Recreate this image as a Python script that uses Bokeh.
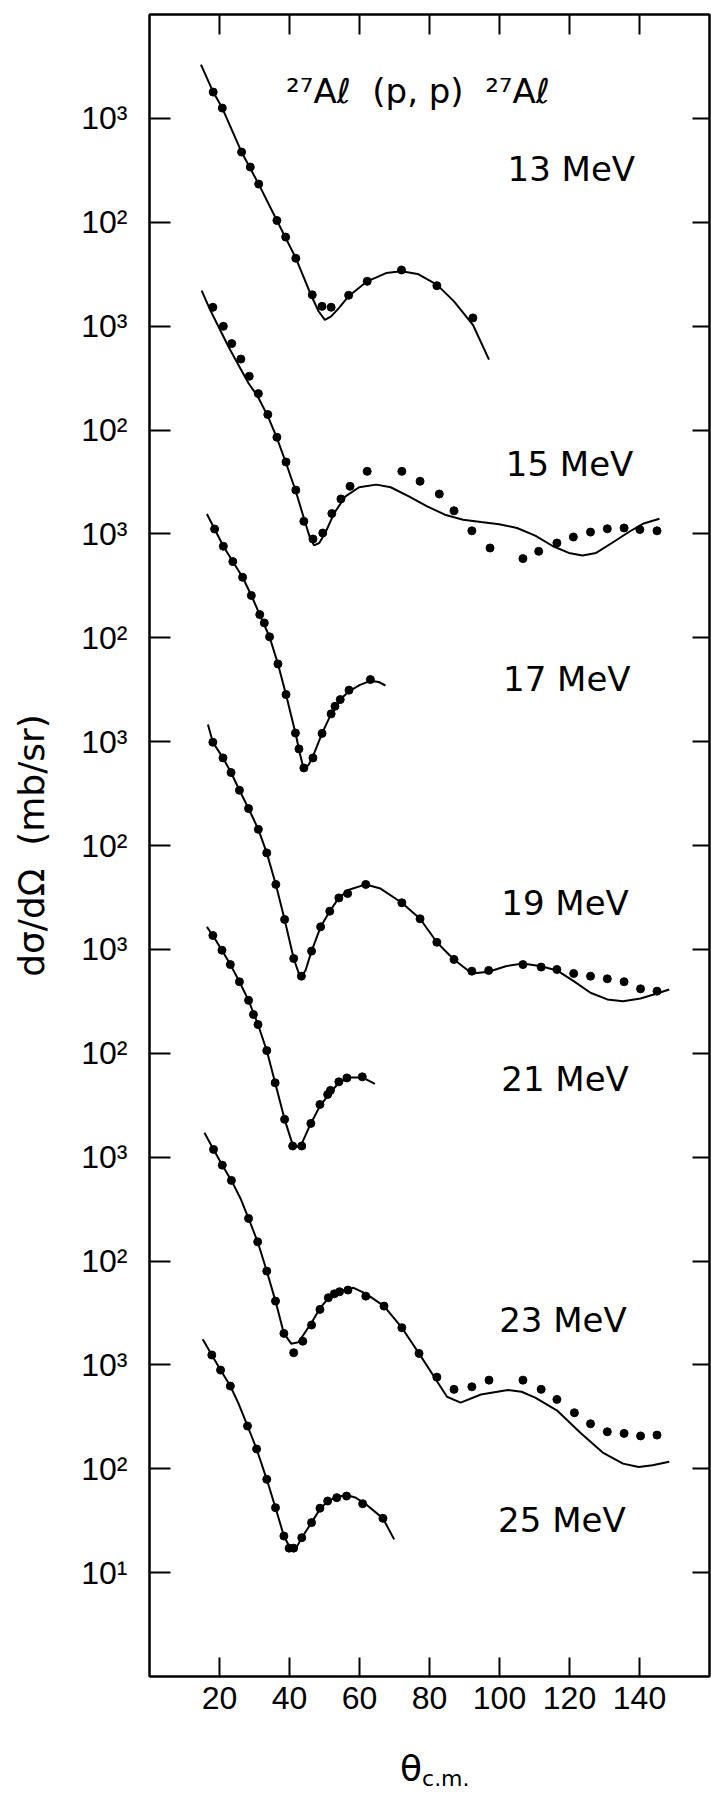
from bokeh.plotting import figure
from bokeh.layouts import column
from bokeh.models import FixedTicker, LinearAxis, LogAxis, Label, Div
from bokeh.embed import file_html
from bokeh.resources import INLINE

FONT = "DejaVu Sans"
TICK_FONT = "Liberation Sans"

# ---------------- data (theta in degrees c.m., dsigma/dOmega in mb/sr) ----------------
energy_labels = ["13 MeV", "15 MeV", "17 MeV", "19 MeV", "21 MeV", "23 MeV", "25 MeV"]
decade_shift = [0, 2, 4, 6, 8, 10, 12]   # each curve displaced downward by 10^-shift

th13_exp = [18.2, 20.8, 26.3, 28.8, 31.2, 36.4, 38.9, 41.8, 46.5, 49.3, 51.9, 56.9, 62.2, 72.0, 82.1, 92.4]
cs13_exp = [1790, 1256, 474, 340, 233, 104, 72, 45, 20, 15.5, 15.2, 19.8, 27, 34.7, 24.5, 12]
th13_fit = [14.7, 18.2, 20.8, 26.3, 31.2, 36.4, 41.8, 46.1, 48.3, 50.1, 51.9, 54.1, 56.9, 62.2, 67.6,
            72.0, 76.6, 82.1, 87.0, 92.4, 97.0]
cs13_fit = [3290, 1790, 1256, 474, 233, 104, 45.2, 20.1, 13.9, 11.5, 12.4, 14.9, 19.4, 27.0, 32.4,
            33.7, 31.8, 25.1, 17.3, 10.3, 4.76]

th15_exp = [18.1, 21.1, 23.5, 26.1, 28.5, 31.1, 33.8, 36.4, 39.0, 41.8, 44.1, 46.7, 49.5, 52.1, 54.7,
            57.3, 62.2, 72.1, 77.3, 82.8, 87.0, 92.1, 97.3, 106.7, 111.2, 116.4, 121.1, 126.0, 130.8,
            135.6, 140.1, 145.0]
cs15_exp = [1517, 995, 679, 482, 329, 224, 141, 85.1, 49.2, 26.4, 13.2, 8.93, 10.2, 15.7, 21.7,
            28.7, 40.0, 40.0, 32.1, 24.2, 16.7, 10.7, 7.31, 5.78, 6.79, 8.17, 9.33, 10.4, 11.2,
            11.4, 11.0, 10.7]
th15_fit = [14.9, 17.3, 19.9, 22.5, 25.1, 28.3, 30.9, 33.8, 36.4, 39.0, 41.8, 44.1, 45.7, 47.0, 48.5,
            50.2, 52.8, 56.0, 59.9, 64.8, 68.9, 74.1, 79.2, 84.4, 89.6, 94.7, 99.9, 105.0, 110.2,
            115.3, 119.8, 123.7, 127.6, 132.1, 137.3, 141.2, 145.7]
cs15_fit = [2198, 1442, 959, 640, 442, 282, 211, 136, 83.8, 48.1, 25.7, 14.2, 9.49, 7.76, 8.17,
            10.2, 15.9, 23.0, 28.1, 29.8, 28.1, 23.0, 18.5, 15.3, 13.7, 13.0, 12.4, 11.4, 9.62,
            7.60, 6.56, 6.18, 6.56, 8.17, 10.6, 12.6, 14.0]

th17_exp = [18.6, 21.1, 23.8, 26.6, 29.1, 31.5, 32.8, 34.3, 36.7, 39.0, 41.7, 42.7, 44.1, 46.7, 49.3,
            51.9, 53.0, 54.5, 57.0, 63.1]
cs17_exp = [1114, 760, 541, 382, 255, 167, 139, 102, 56.0, 28.4, 12.1, 8.51, 5.58, 6.97, 12.0,
            18.5, 21.9, 25.4, 31.3, 39.6]
th17_fit = [16.4, 18.6, 21.1, 23.8, 26.6, 29.1, 31.5, 34.3, 36.7, 39.0, 41.7, 43.0, 44.1, 45.5, 46.7,
            49.3, 51.9, 54.5, 57.0, 60.0, 63.1, 65.5, 67.4]
cs17_fit = [1556, 1114, 760, 541, 382, 255, 167, 102, 56.0, 28.4, 12.1, 7.6, 5.37, 6.0, 7.2,
            12.0, 18.5, 25.4, 30.5, 35.0, 38.5, 37.5, 34.7]

th19_exp = [18.1, 21.0, 23.3, 25.7, 28.3, 31.1, 33.5, 36.1, 38.6, 41.2, 43.4, 46.3, 48.9, 51.5, 54.1,
            56.6, 61.8, 72.1, 77.3, 82.1, 87.0, 92.1, 96.9, 106.7, 111.9, 116.4, 121.2, 126.0, 130.8,
            135.6, 140.3, 145.0]
cs19_exp = [986, 697, 504, 340, 227, 143, 84.9, 42.2, 19.4, 8.17, 5.52, 9.62, 16.5, 23.3, 31.3,
            34.5, 42.2, 28.1, 19.7, 11.7, 8.0, 6.17, 6.27, 7.14, 6.75, 6.40, 5.86, 5.52, 5.21,
            4.88, 4.17, 3.96]
th19_fit = [16.7, 18.1, 21.0, 23.3, 25.7, 28.3, 31.1, 33.5, 36.1, 38.6, 41.2, 43.1, 44.6, 46.3, 48.9,
            51.5, 54.1, 57.0, 61.8, 66.0, 72.1, 77.3, 82.1, 84.4, 87.0, 92.1, 96.9, 101.8, 106.7,
            111.9, 116.4, 121.2, 126.0, 130.8, 135.3, 140.3, 145.0, 148.5]
cs19_fit = [1462, 986, 697, 504, 340, 227, 143, 84.9, 42.2, 19.4, 8.17, 5.32, 6.3, 9.62, 16.5,
            23.3, 31.3, 37.5, 42.2, 38.5, 28.1, 19.7, 11.7, 9.77, 8.0, 5.86, 6.08, 6.89, 7.31,
            6.89, 6.27, 4.94, 3.82, 3.30, 3.17, 3.37, 3.76, 4.11]

th21_exp = [18.1, 20.7, 23.1, 25.7, 28.3, 29.7, 31.0, 33.5, 35.9, 38.6, 40.9, 43.5, 46.1, 48.7, 50.9,
            51.7, 54.1, 56.4, 60.8]
cs21_exp = [1361, 982, 714, 488, 323, 236, 189, 106, 51.9, 23.1, 12.8, 12.8, 21.1, 32.1, 40.1,
            43.9, 53.1, 57.9, 59.3]
th21_fit = [16.4, 18.1, 20.7, 23.1, 25.7, 28.3, 31.0, 33.5, 35.9, 38.6, 40.9, 42.1, 43.5, 46.1, 48.7,
            51.7, 54.1, 57.0, 60.8, 64.4]
cs21_fit = [1648, 1361, 982, 714, 488, 323, 189, 106, 51.9, 23.1, 13.2, 12.5, 13.5, 21.1, 31.0,
            42.0, 52.0, 58.5, 58.5, 50.8]

th23_exp = [18.3, 20.8, 23.4, 28.3, 30.9, 33.5, 36.0, 38.4, 41.2, 43.8, 46.3, 48.7, 51.1, 52.8, 54.3,
            56.7, 61.8, 67.0, 72.1, 77.0, 82.1, 87.0, 92.1, 97.0, 106.7, 111.9, 116.4, 121.4, 126.0,
            130.8, 135.6, 140.3, 145.0]
cs23_exp = [1186, 837, 597, 257, 153, 80.0, 41.1, 20.1, 13.1, 16.9, 24.2, 34.2, 44.3, 48.3, 50.6,
            52.5, 45.9, 36.8, 22.8, 12.9, 7.62, 5.81, 6.15, 7.13, 7.13, 5.81, 4.65, 3.46, 2.71,
            2.27, 2.19, 2.07, 2.11]
th23_fit = [15.7, 18.3, 20.8, 23.4, 26.0, 28.3, 30.9, 33.5, 36.0, 38.4, 40.5, 42.5, 44.0, 46.3, 48.7,
            51.1, 54.3, 58.3, 61.8, 67.0, 72.1, 77.0, 82.1, 85.0, 88.9, 94.7, 102.4, 106.3, 110.2,
            116.6, 123.1, 129.5, 135.3, 139.8, 143.7, 148.5]
cs23_fit = [1714, 1186, 837, 597, 400, 257, 153, 80.0, 41.1, 20.1, 16.0, 16.5, 19.5, 25.5, 35.0,
            44.0, 51.5, 55.2, 48.5, 36.8, 22.8, 12.9, 7.0, 4.93, 4.33, 5.19, 5.73, 5.51, 4.83,
            3.60, 2.22, 1.43, 1.12, 1.04, 1.08, 1.17]

th25_exp = [17.8, 20.3, 23.1, 28.0, 30.6, 33.5, 36.0, 38.4, 39.9, 41.2, 43.5, 46.3, 48.7, 50.9, 53.5,
            56.3, 60.9, 66.7]
cs25_exp = [1245, 891, 625, 258, 155, 79.1, 42.2, 22.5, 17.2, 17.2, 21.7, 30.3, 41.7, 48.9, 52.7,
            54.6, 46.1, 33.3]
th25_fit = [15.2, 17.8, 20.3, 23.1, 25.5, 28.0, 30.6, 33.5, 36.0, 38.4, 40.5, 42.0, 43.5, 46.3, 48.7,
            50.9, 53.5, 56.3, 59.0, 62.0, 66.7, 69.9]
cs25_fit = [1762, 1245, 891, 625, 420, 258, 155, 79.1, 42.2, 22.5, 16.4, 17.5, 21.7, 30.3, 41.0,
            48.5, 53.5, 55.8, 52.5, 45.0, 33.3, 20.9]

x_tick_values = [20, 40, 60, 80, 100, 120, 140]
y_tick_values = [1e3, 1e2, 1e1, 1e0, 1e-1, 1e-2, 1e-3, 1e-4, 1e-5, 1e-6, 1e-7, 1e-8, 1e-9, 1e-10, 1e-11]
y_tick_labels = ["10³", "10²", "10³", "10²", "10³", "10²", "10³", "10²",
                 "10³", "10²", "10³", "10²", "10³", "10²", "10¹"]

curves = [
    (th13_exp, cs13_exp, th13_fit, cs13_fit),
    (th15_exp, cs15_exp, th15_fit, cs15_fit),
    (th17_exp, cs17_exp, th17_fit, cs17_fit),
    (th19_exp, cs19_exp, th19_fit, cs19_fit),
    (th21_exp, cs21_exp, th21_fit, cs21_fit),
    (th23_exp, cs23_exp, th23_fit, cs23_fit),
    (th25_exp, cs25_exp, th25_fit, cs25_fit),
]

# ---------------- figure ----------------
p = figure(width=711, height=1745, x_range=(0, 160), y_range=(1e-12, 1e4),
           y_axis_type="log", output_backend="svg", toolbar_location=None,
           min_border_left=149, min_border_right=2, min_border_top=14, min_border_bottom=69,
           background_fill_color="white", border_fill_color="white")
p.grid.visible = False
p.outline_line_color = "black"
p.outline_line_width = 2


def style_axis(ax, tick_len, show_labels):
    ax.major_tick_in = tick_len
    ax.major_tick_out = 0
    ax.minor_tick_line_color = None
    ax.axis_line_color = "black"
    ax.axis_line_width = 2
    ax.major_tick_line_color = "black"
    ax.major_tick_line_width = 2
    ax.major_label_text_font = TICK_FONT
    if show_labels:
        ax.major_label_text_font_size = "32px"
        ax.major_label_text_color = "black"
    else:
        ax.major_label_text_font_size = "1px"
        ax.major_label_text_color = None
        ax.major_label_standoff = 0


xax = p.xaxis[0]
xax.ticker = FixedTicker(ticks=x_tick_values)
style_axis(xax, 19, True)
xax.major_label_standoff = 10

yax = p.yaxis[0]
yax.ticker = FixedTicker(ticks=y_tick_values)
style_axis(yax, 21, True)
yax.major_label_overrides = dict(zip(y_tick_values, y_tick_labels))
yax.major_label_standoff = 22
yax.axis_label = "dσ/dΩ\u00a0\u00a0(mb/sr)"
yax.axis_label_text_font = FONT
yax.axis_label_text_font_size = "36px"
yax.axis_label_text_font_style = "normal"
yax.axis_label_text_color = "black"
yax.axis_label_standoff = 26

top = LinearAxis(ticker=FixedTicker(ticks=x_tick_values))
style_axis(top, 20, False)
p.add_layout(top, "above")

right = LogAxis(ticker=FixedTicker(ticks=y_tick_values))
style_axis(right, 17, False)
p.add_layout(right, "right")

for i, (tx, cx, tf, cf) in enumerate(curves):
    f = 10.0 ** (-decade_shift[i])
    p.line(tf, [c * f for c in cf], line_color="black", line_width=2)
    p.scatter(tx, [c * f for c in cx], size=8, fill_color="black", line_color="black")

# energy labels (placed at the right of each curve; vertical centre in displayed decades)
label_x = [102.3, 101.8, 101.0, 100.5, 100.5, 99.9, 99.6]
label_decades = [2.509, -0.325, -2.399, -4.552, -6.244, -8.566, -10.494]
for lab, lx, d in zip(energy_labels, label_x, label_decades):
    p.add_layout(Label(x=lx, y=10.0 ** d, text=lab, text_font=FONT, text_font_size="34px",
                       text_baseline="middle", text_align="left", text_color="black"))

# reaction title
p.add_layout(Label(x=76.7, y=10.0 ** 3.26, text="²⁷Aℓ\u00a0\u00a0(p, p)\u00a0\u00a0²⁷Aℓ", text_font=FONT,
                   text_font_size="34px", text_baseline="middle", text_align="center",
                   text_color="black"))

# x axis title  θ_c.m.  (HTML text under the plot)
xtitle = Div(text=('<div style="margin-left:395px;margin-top:0px;font-family:\'DejaVu Sans\';'
                   'font-size:36px;line-height:38px;color:black;white-space:nowrap;">θ'
                   '<span style="font-size:22px;vertical-align:-5px;line-height:0;">c.m.</span></div>'),
             width=711, height=48)

layout = column(p, xtitle, spacing=0)
open("out.html", "w").write(file_html(layout, INLINE))
